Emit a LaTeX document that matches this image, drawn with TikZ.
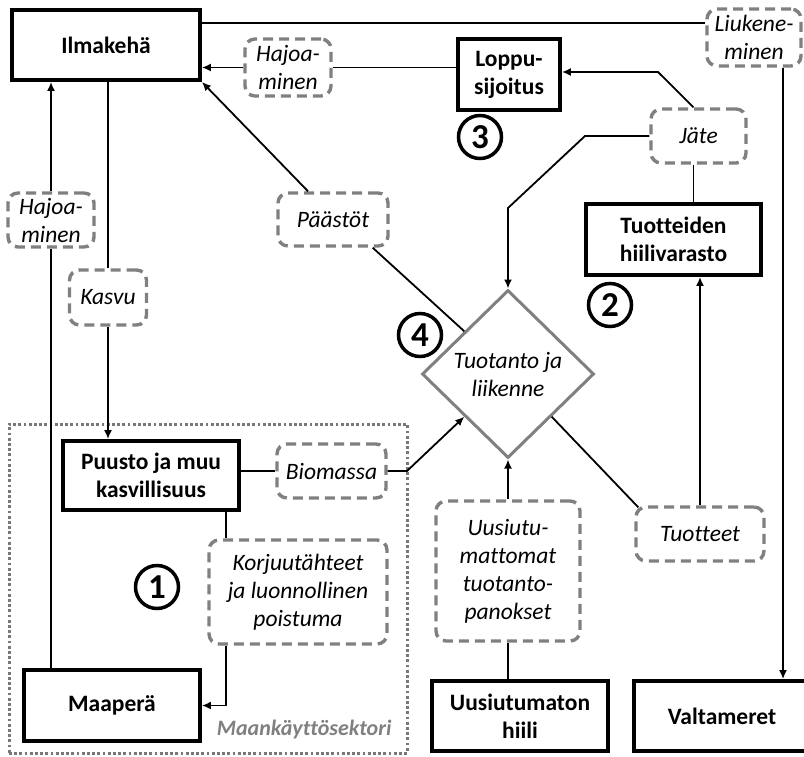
\documentclass[tikz,border=0pt]{standalone}
\usepackage{fontspec}
\setmainfont[Ligatures=NoCommon,RawFeature={-liga;-clig;-dlig}]{Carlito}
\usetikzlibrary{arrows.meta,shapes.geometric,calc}
\definecolor{dgray}{RGB}{128,128,128}
\definecolor{dotgray}{RGB}{120,120,120}
\begin{document}
\begin{tikzpicture}[x=1pt,y=-1pt,
 mainbox/.style={draw, line width=3.8pt, align=center, inner sep=0pt, font=\fontsize{23.5}{28}\selectfont\bfseries},
 flow/.style={draw=dgray, line width=3.4pt, dash pattern=on 10pt off 6pt, rounded corners=10pt, align=center, inner sep=0pt, font=\fontsize{23.5}{28}\selectfont\itshape},
 conn/.style={line width=1.8pt},
 arr/.style={conn, -{Latex[length=9pt,width=8pt]}},
 num/.style={circle, draw, line width=3.5pt, minimum size=43pt, inner sep=0pt, font=\fontsize{35}{35}\selectfont\bfseries}
]
\useasboundingbox (0,0) rectangle (804,756);

% sector region
\node[draw=dotgray, line width=3pt, dash pattern=on 2.8pt off 2.4pt, minimum width=398pt, minimum height=329pt, inner sep=0pt] (sector) at (208,588.5) {};
\node[anchor=base east, text=dgray, font=\fontsize{22}{26}\selectfont\bfseries\itshape] (mk) at (395,735) {Maankäyttösektori};

% main boxes
\node[mainbox, minimum width=188pt, minimum height=70pt] (ilm) at (106,45) {Ilmakehä};
\node[mainbox, minimum width=102pt, minimum height=71pt] (lop) at (509,74.5) {Loppu-\\sijoitus};
\node[mainbox, minimum width=175pt, minimum height=71pt] (tuv) at (673.5,239.5) {Tuotteiden\\hiilivarasto};
\node[mainbox, minimum width=176pt, minimum height=69pt] (puu) at (151,475.5) {Puusto ja muu\\kasvillisuus};
\node[mainbox, minimum width=176pt, minimum height=71pt] (maa) at (112,705.5) {Maaperä};
\node[mainbox, minimum width=176pt, minimum height=70pt] (hii) at (520,716) {Uusiutumaton\\hiili};
\node[mainbox, minimum width=176pt, minimum height=70pt] (val) at (722,716) {Valtameret};

% flow labels
\node[flow, minimum width=94pt, minimum height=57pt] (liu) at (754,37.5) {Liukene-\\minen};
\node[flow, minimum width=86pt, minimum height=57pt] (hajt) at (288,67.5) {Hajoa-\\minen};
\node[flow, minimum width=95pt, minimum height=54pt] (jat) at (698.5,136) {Jäte};
\node[flow, minimum width=110pt, minimum height=53pt] (paa) at (333,219.5) {Päästöt};
\node[flow, minimum width=86pt, minimum height=54pt] (hajl) at (51,220) {Hajoa-\\minen};
\node[flow, minimum width=77pt, minimum height=55pt] (kas) at (108,297.5) {Kasvu};
\node[flow, minimum width=109pt, minimum height=54pt] (bio) at (331.5,471) {Biomassa};
\node[flow, minimum width=178pt, minimum height=104pt] (kor) at (298,592) {Korjuutähteet\\ja luonnollinen\\poistuma};
\node[flow, minimum width=144pt, minimum height=140pt] (uus) at (508,571) {Uusiutu-\\mattomat\\tuotanto-\\panokset};
\node[flow, minimum width=128pt, minimum height=54pt] (tuo) at (700,534) {Tuotteet};

% production diamond
\node[diamond, draw=dgray, line width=3pt, minimum width=172pt, minimum height=168pt, inner sep=0pt, align=center, font=\fontsize{23.5}{28}\selectfont\itshape] (prod) at (508,374) {Tuotanto ja\\liikenne};

% numbers
\node[num] (n1) at (157,587) {1};
\node[num] (n2) at (610,305) {2};
\node[num] (n3) at (480,137) {3};
\node[num] (n4) at (420,335) {4};

% connectors
\coordinate (a1) at ([yshift=-15pt]ilm.north east);
\draw[conn] (a1) -- (a1 -| liu.west);
\coordinate (a2) at ([xshift=29pt]liu.south);
\draw[arr] (a2) -- (a2 |- val.north);

\draw[conn] (lop.west |- hajt.east) -- (hajt.east);
\draw[arr] (hajt.west) -- (hajt.west -| ilm.east);

\coordinate (j0) at ([xshift=-5pt]jat.north);
\coordinate (j1) at (658,72);
\draw[arr] (j0) -- (j1) -- (j1 -| lop.east);
\coordinate (j2) at (585,136);
\coordinate (j3) at (508,208);
\draw[arr] (jat.west) -- (j2) -- (j3) -- (prod.north);
\coordinate (j4) at ([xshift=-5pt]jat.south);
\draw[conn] (j4) -- (j4 |- tuv.north);

\draw[arr] (tuo.north) -- (tuo.north |- tuv.south);
\draw[conn] (prod.south east) -- ([xshift=4pt,yshift=-2pt]tuo.north west);

\coordinate (p0) at ([xshift=-25pt]paa.north);
\draw[arr] (p0) -- (ilm.south east);
\draw[conn] ([xshift=-17pt]paa.south east) -- (prod.north west);

\draw[conn] (puu.east |- bio.west) -- (bio.west);
\coordinate (b1) at (407,471);
\draw[arr] (bio.east) -- (b1) -- (prod.south west);

\draw[conn] (kas.north |- ilm.south) -- (kas.north);
\draw[arr] (kas.south) -- (kas.south |- puu.north);

\draw[conn] (hajl.south |- maa.north) -- (hajl.south);
\draw[arr] (hajl.north) -- (hajl.north |- ilm.south);

\coordinate (k0) at ([xshift=-72pt]kor.north);
\coordinate (k1) at ([xshift=-72pt]kor.south);
\draw[conn] (k0 |- puu.south) -- (k0);
\draw[arr] (k1) |- (maa.east);

\draw[arr] (uus.north) -- (prod.south);
\draw[conn] (uus.south) -- (uus.south |- hii.north);
\end{tikzpicture}
\end{document}
